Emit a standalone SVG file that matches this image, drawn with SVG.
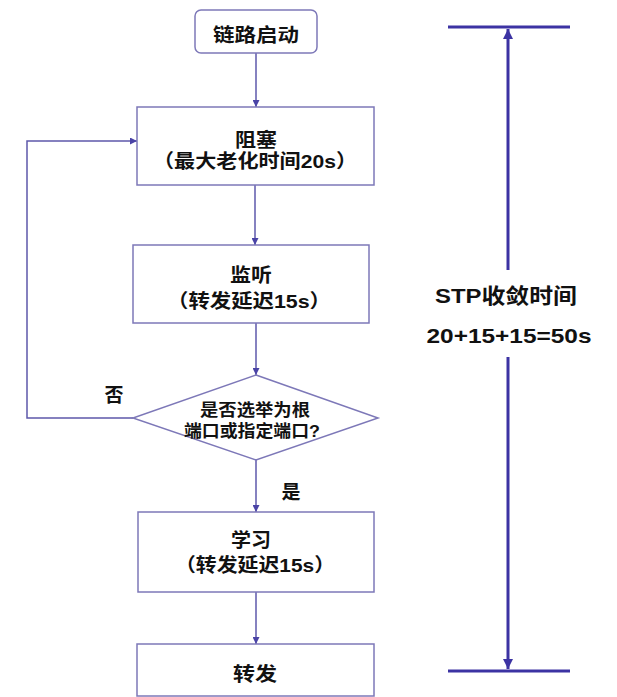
<svg xmlns="http://www.w3.org/2000/svg" width="617" height="697" viewBox="0 0 617 697">
<defs>
<style>
.box{fill:#fff;stroke:#7d78b8;stroke-width:1.5}
.ln{fill:none;stroke:#5e58ab;stroke-width:1.5}
.tl{fill:none;stroke:#3c33a3;stroke-width:3}
text{font-family:"Liberation Sans","Noto Sans CJK SC",sans-serif;font-weight:bold;fill:#111;text-anchor:middle}
.t{font-size:19px}
.s{font-size:16.5px}
.b{font-size:21px}
</style>
<marker id="a" viewBox="0 0 10 10" refX="10" refY="5" markerWidth="7" markerHeight="7" markerUnits="userSpaceOnUse" orient="auto"><path d="M0,0L10,5L0,10z" fill="#4a43a6"/></marker>
<marker id="b" viewBox="0 0 10 10" refX="10" refY="5" markerWidth="10" markerHeight="10" markerUnits="userSpaceOnUse" orient="auto"><path d="M0,0L10,5L0,10z" fill="#3c33a3"/></marker>
</defs>
<g id="connectors">
<path class="ln" d="M256,53V107" marker-end="url(#a)"/>
<path class="ln" d="M255,185V245" marker-end="url(#a)"/>
<path class="ln" d="M256,323V375" marker-end="url(#a)"/>
<path class="ln" d="M256,460V512" marker-end="url(#a)"/>
<path class="ln" d="M256,592V644" marker-end="url(#a)"/>
<path class="ln" d="M133,418H27V141H137" marker-end="url(#a)"/>
</g>
<g id="timeline">
<path class="tl" d="M448,27H570"/>
<path class="tl" d="M448,671H570"/>
<path class="tl" d="M508,270V29" marker-end="url(#b)"/>
<path class="tl" d="M508,357V669" marker-end="url(#b)"/>
<text class="b" x="506" y="303" textLength="142" lengthAdjust="spacingAndGlyphs">STP收敛时间</text>
<text class="b" x="509" y="343" textLength="165" lengthAdjust="spacingAndGlyphs">20+15+15=50s</text>
</g>
<g id="start">
<rect class="box" x="195" y="10" width="122" height="43" rx="6"/>
<text class="t" x="256" y="42" textLength="86" lengthAdjust="spacingAndGlyphs">链路启动</text>
</g>
<g id="block">
<rect class="box" x="137" y="107" width="237" height="78"/>
<text class="t" x="256" y="147" textLength="42" lengthAdjust="spacingAndGlyphs">阻塞</text>
<text class="t" x="255" y="168" textLength="204" lengthAdjust="spacingAndGlyphs">（最大老化时间20s）</text>
</g>
<g id="listen">
<rect class="box" x="133" y="245" width="236" height="78"/>
<text class="t" x="251" y="282" textLength="42" lengthAdjust="spacingAndGlyphs">监听</text>
<text class="t" x="249" y="308" textLength="164" lengthAdjust="spacingAndGlyphs">（转发延迟15s）</text>
</g>
<g id="decision">
<path class="box" d="M256,375L378,418L256,460L133,418Z"/>
<text class="s" x="255" y="416" textLength="110" lengthAdjust="spacingAndGlyphs">是否选举为根</text>
<text class="s" x="252" y="437" textLength="136" lengthAdjust="spacingAndGlyphs">端口或指定端口?</text>
</g>
<g id="learn">
<rect class="box" x="138" y="512" width="236" height="80"/>
<text class="t" x="251" y="547" textLength="40" lengthAdjust="spacingAndGlyphs">学习</text>
<text class="t" x="255" y="572" textLength="160" lengthAdjust="spacingAndGlyphs">（转发延迟15s）</text>
</g>
<g id="forward">
<rect class="box" x="137" y="644" width="237" height="52"/>
<text class="t" x="255" y="681" textLength="44" lengthAdjust="spacingAndGlyphs">转发</text>
</g>
<g id="labels">
<text class="t" x="114" y="402">否</text>
<text class="t" x="291" y="499">是</text>
</g>
</svg>
